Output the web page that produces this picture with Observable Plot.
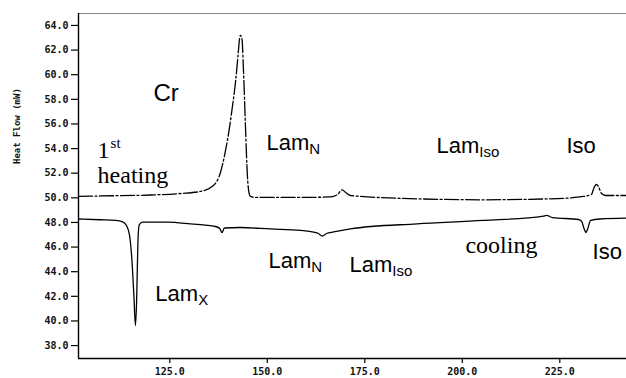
<!DOCTYPE html>
<html>
<head>
<meta charset="utf-8">
<script src="https://cdn.jsdelivr.net/npm/d3@7"></script>
<script src="https://cdn.jsdelivr.net/npm/@observablehq/plot@0.6"></script>
<style>
  body { margin: 0; background: #fff; }
  #chart svg { display: block; }
</style>
</head>
<body>
<div id="chart"></div>
<script>
// DSC trace: first heating scan (temperature °C, heat flow mW)
const heatT = [101.6,107.2,120.1,127.8,132.9,136.2,138.0,139.3,140.2,141.1,141.9,142.5,142.9,143.1,143.5,143.9,144.4,144.9,145.3,145.7,147.0,158.5,166.2,168.0,169.2,170.1,171.3,188.4,205.4,222.6,231.1,233.1,233.9,234.4,234.9,235.7,236.7,242.1];
const heatHF = [50.11,50.15,50.23,50.35,50.52,51.0,52.06,53.85,55.47,57.5,59.53,61.56,62.94,63.19,62.94,60.34,55.88,51.81,50.43,50.11,50.03,50.03,50.07,50.27,50.65,50.43,50.19,49.92,49.84,49.92,50.11,50.27,50.92,51.08,50.92,50.35,50.19,50.19];

// DSC trace: cooling scan
const coolT = [101.6,107.2,111.1,112.9,113.9,114.7,115.3,115.8,116.2,116.5,116.7,116.9,117.2,118.0,124.4,130.3,136.7,137.8,138.4,139.0,143.1,150.8,158.5,161.9,163.1,164.1,165.2,167.0,171.3,188.4,205.4,220.8,221.6,223.1,229.8,230.6,231.3,231.7,232.1,232.9,235.4,242.1];
const coolHF = [48.28,48.22,48.16,48.04,47.75,46.94,44.91,42.07,39.63,41.66,44.50,46.94,47.83,48.02,48.02,47.88,47.67,47.51,47.18,47.55,47.59,47.47,47.35,47.21,47.10,46.90,47.10,47.23,47.48,47.89,48.16,48.52,48.57,48.40,48.24,48.08,47.43,47.18,47.43,48.16,48.28,48.35];

// axes
const xDomain = [101.6, 242.1];
const yDomain = [36.95, 64.97];
const xTicks = [125, 150, 175, 200, 225];
const yTicks = [38, 40, 42, 44, 46, 48, 50, 52, 54, 56, 58, 60, 62, 64];
const yLabel = "Heat Flow (mW)";

// phase labels (sans-serif, with optional subscript)
const phaseText = ["Cr", "Lam", "Lam", "Iso", "Lam", "Lam", "Iso", "Lam"];
const phaseSub  = ["", "N", "Iso", "", "N", "Iso", "", "X"];
const phaseSize = [24, 22, 22, 22, 22, 22, 22, 22];
const phaseT    = [120.8, 149.8, 193.4, 226.7, 150.3, 171.1, 233.4, 121.3];
const phaseHF   = [57.83, 53.85, 53.68, 53.68, 44.26, 43.94, 45.07, 41.58];

// scan labels (serif, with optional superscript)
const scanText = ["1", "heating", "cooling"];
const scanSup  = ["st", "", ""];
const scanT    = [106.5, 106.5, 200.8];
const scanHF   = [53.2, 51.17, 45.48];

const heating = heatT.map((t, i) => ({t, hf: heatHF[i]}));
const cooling = coolT.map((t, i) => ({t, hf: coolHF[i]}));

const SANS = "'Liberation Sans', Arial, sans-serif";
const SERIF = "'Liberation Serif', 'Times New Roman', serif";
const MONO = "'DejaVu Sans Mono', monospace";

const ctx = document.createElement("canvas").getContext("2d");
function textWidth(s, font) { ctx.font = font; return ctx.measureText(s).width; }

const phaseMarks = phaseText.flatMap((t, i) => {
  const d = [{t: phaseT[i], hf: phaseHF[i]}];
  const marks = [Plot.text(d, {x: "t", y: "hf", text: () => t, textAnchor: "start", lineAnchor: "bottom",
    fontFamily: SANS, fontSize: phaseSize[i], fill: "#000"})];
  if (phaseSub[i]) {
    marks.push(Plot.text(d, {x: "t", y: "hf", text: () => phaseSub[i], textAnchor: "start", lineAnchor: "bottom",
      dx: textWidth(t, `${phaseSize[i]}px ${SANS}`), dy: 4, fontFamily: SANS, fontSize: 15, fill: "#000"}));
  }
  return marks;
});

const scanMarks = scanText.flatMap((t, i) => {
  const d = [{t: scanT[i], hf: scanHF[i]}];
  const marks = [Plot.text(d, {x: "t", y: "hf", text: () => t, textAnchor: "start", lineAnchor: "bottom",
    fontFamily: SERIF, fontSize: 24, fill: "#000"})];
  if (scanSup[i]) {
    marks.push(Plot.text(d, {x: "t", y: "hf", text: () => scanSup[i], textAnchor: "start", lineAnchor: "bottom",
      dx: textWidth(t, `24px ${SERIF}`) + 1, dy: -10, fontFamily: SERIF, fontSize: 15, fill: "#000"}));
  }
  return marks;
});

const chart = Plot.plot({
  width: 626,
  height: 378,
  marginLeft: 78,
  marginRight: 0,
  marginTop: 13,
  marginBottom: 20,
  style: {fontFamily: MONO, fontSize: "10px", color: "#111", background: "#fff"},
  x: {domain: xDomain, axis: null},
  y: {domain: yDomain, axis: null},
  marks: [
    Plot.axisX({ticks: xTicks, tickFormat: d3.format(".1f"), tickSize: 5, tickPadding: 4,
      label: null, fontWeight: "bold", stroke: "#000", strokeWidth: 1.2}),
    Plot.axisY({ticks: yTicks, tickFormat: d3.format(".1f"), tickSize: 7, tickPadding: 3,
      label: null, fontWeight: "bold", stroke: "#000", strokeWidth: 1.2}),
    Plot.text([yLabel], {frameAnchor: "left", dx: -61, dy: -22, rotate: -90, text: d => d,
      fontFamily: MONO, fontSize: 9, fontWeight: "bold", fill: "#111"}),
    Plot.ruleY([yDomain[1]], {stroke: "#888", strokeWidth: 1}),
    Plot.ruleY([yDomain[0]], {stroke: "#000", strokeWidth: 1.4}),
    Plot.ruleX([xDomain[0]], {stroke: "#000", strokeWidth: 1.4}),
    Plot.line(heating, {x: "t", y: "hf", curve: "monotone-x", stroke: "#000", strokeWidth: 1.3,
      strokeDasharray: "14,2.5,2,2.5"}),
    Plot.line(cooling, {x: "t", y: "hf", curve: "monotone-x", stroke: "#000", strokeWidth: 1.3}),
    ...phaseMarks,
    ...scanMarks
  ]
});

document.getElementById("chart").appendChild(chart);
</script>
</body>
</html>
